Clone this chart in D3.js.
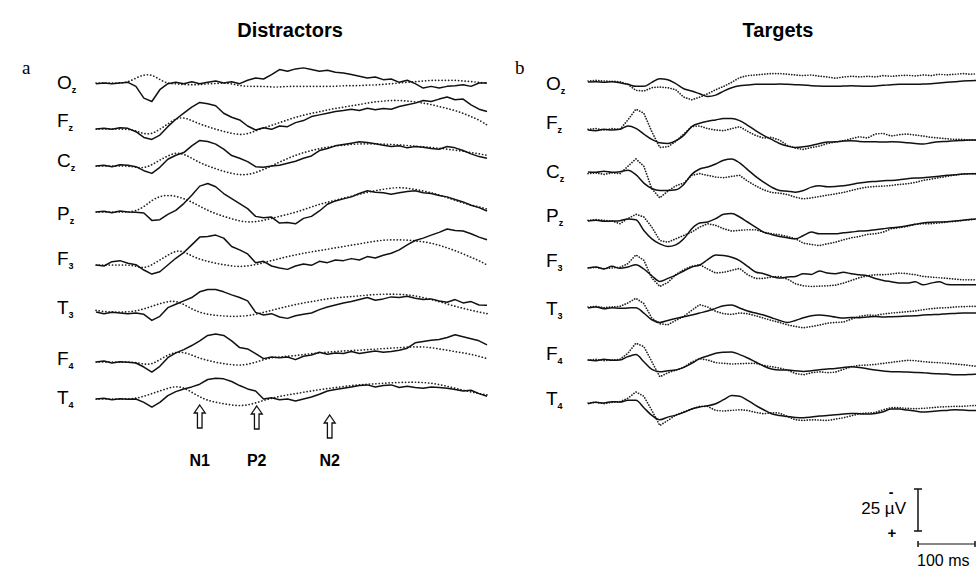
<!DOCTYPE html>
<html>
<head>
<meta charset="utf-8">
<script src="https://cdn.jsdelivr.net/npm/d3@7"></script>
<style>
  body { margin: 0; background: #fff; }
  svg { display: block; font-family: "Liberation Sans", Arial, sans-serif; }
</style>
</head>
<body>
<svg id="chart" width="976" height="572"></svg>
<script>
// sample times (ms), one every 14 ms
var sampleTimes = [-100,-86,-72,-58,-44,-30,-16,-2,12,26,40,54,68,82,96,110,124,138,152,166,
  180,194,208,222,236,250,264,278,292,306,320,334,348,362,376,390,404,418,432,446,
  460,474,488,502,516,530,544,558,572,586];

var channels = ["Oz","Fz","Cz","Pz","F3","T3","F4","T4"];
var peakNames = ["N1","P2","N2"];
var peakTimes = [82, 182, 310];

// values in microvolts (negative plotted upward)
// a: distractors
var aOzSolid = [0.4,0,0.4,0,-0.4,2,9,11,4,0.4,-0.4,0.4,-0.8,0.4,-0.4,-1.2,0,-0.8,0.4,-1.6,-3,-2.4,-5,-8,-7,-8.4,-9,-8,-7,-7.6,-6.4,-6,-5,-4,-3,-3.6,-2,-2.4,-0.4,-1.6,0.4,3,2,3,2,1.6,1,2,0,0];
var aOzDotted = [0,0,0,0,-0.4,-3,-5,-5,-2,0.4,0.4,1,1,1,0.4,0.4,0,0.4,1.6,2,2,2,2.4,2.4,2,2,2,2,2,2,2,1.6,1.6,1.6,1.2,1.2,0.8,0.4,0,-0.4,-0.8,-1.2,-1.6,-1.6,-1.6,-1.6,-1.2,-0.8,-0.4,0];
var aFzSolid = [0,-0.4,0.2,-0.8,-0.4,1.6,5,6.2,3.6,-1.4,-5.8,-9.4,-13,-15.8,-15,-13.8,-9.4,-7,-5.4,-1.8,0.6,-0.8,0.2,-1.8,-1.4,-3.8,-5,-7.4,-8.4,-9.4,-10.4,-11,-11.8,-11,-12.4,-11.4,-12.2,-11.8,-13.4,-14.4,-15.4,-17,-16.4,-17.8,-19,-17.4,-17.8,-14.4,-11.8,-10.4];
var aFzDotted = [0,0,0,0,0.2,1,3,3,0.2,-3,-6.2,-7,-5,-3,-1.4,0.2,1.4,2.6,3.4,3,1,-0.6,-2.2,-3.8,-5.4,-7,-8.2,-9.4,-10.2,-11.4,-12.2,-13,-13.8,-14.6,-15.4,-16.2,-16.6,-17,-17,-16.6,-16.2,-15.4,-14.6,-13.4,-12.2,-11,-9.4,-7.4,-5.4,-2.4];
var aCzSolid = [0,-0.4,0.4,-0.8,-0.4,0.4,2.8,4.4,0.8,-4,-6.4,-8,-12,-15.2,-14.6,-13,-10,-6.2,-4.6,-2.6,0.4,0.8,0,-0.4,-1.6,-2.8,-4.6,-6,-9.2,-10.4,-12,-12.8,-13.6,-14.4,-14,-13.2,-12.4,-11.6,-12,-10.8,-11.6,-11.2,-10.4,-10,-11.6,-10.8,-9.2,-7.2,-5.6,-4.6];
var aCzDotted = [0,0,0,0,0,0.8,1.2,-0.6,-3.6,-6,-8,-7.2,-4.6,-2,0,1.6,3.2,4.4,5.2,5.2,4,2,0,-2.4,-4.4,-6.4,-8,-9.2,-10.4,-11.2,-12,-12.4,-12.8,-13.2,-13.2,-13.2,-13,-12.8,-12.6,-12.2,-11.8,-11.4,-11,-10.6,-10,-9.4,-8.8,-8,-7.2,-6.4];
var aPzSolid = [0,-0.4,0.4,-0.6,0,0.2,0.6,5,4.6,1.4,-1,-5,-10,-15.4,-17,-15,-11,-8,-5,-2,2.6,3.4,3,6.6,6.2,7,3.8,2.6,-0.6,-4.6,-6.6,-7.8,-9,-11,-12.6,-11.8,-11.4,-10.6,-11.4,-12.2,-12.6,-11.4,-11,-9.8,-9,-7.4,-6,-4,-2.6,-0.6];
var aPzDotted = [0,0,0,0,0,-0.6,-3,-7,-9.4,-10,-9.4,-8,-6,-3.4,-1,1,2.6,4,5.4,6,5.8,5,3.8,2.6,1.4,0.2,-1.4,-3,-4.6,-5.8,-7,-8.2,-9.4,-10.6,-11.8,-12.6,-13.6,-14.2,-14.6,-14.2,-13.4,-12.6,-11.4,-10.2,-8.6,-7,-5.4,-4.2,-3,-1.8];
var aF3Solid = [0,0.6,-2,-2.6,-1,-0.2,3,5.4,4,0,-4,-7.4,-12,-16.6,-17,-17.8,-16,-11,-9,-6.6,-1.4,-2.2,0.6,1.8,2.6,0.6,-0.6,0.2,-2.2,-1.4,-3,-2.6,-3.8,-3,-5,-4.2,-5.8,-7,-9,-12,-14.6,-16,-17.8,-19.4,-21.4,-20.6,-20.2,-18.6,-16.6,-15];
var aF3Dotted = [0,0,0,0,0,0.6,2,0,-3,-5.8,-8.6,-8,-5.4,-3.4,-2.2,-1,-0.2,0.6,1,0.6,-0.2,-1.4,-2.6,-3.8,-5,-6,-7,-7.8,-8.6,-9.4,-10.2,-11,-11.8,-12.6,-13.4,-14.2,-14.8,-15,-15,-14.8,-14.4,-13.8,-13,-11.8,-10.2,-8.6,-6.6,-4.6,-2.6,0];
var aT3Solid = [0,1,0.2,0.6,1,0.6,1.4,5,2.6,-2.6,-4.6,-6.6,-8.6,-12,-13.4,-13.4,-12,-10.2,-8.6,-6.6,0.2,1.8,1,3,3.8,2.2,1.4,0.6,-1.4,-3,-4.2,-5.4,-6.2,-7.4,-8.6,-7,-7.8,-9,-8.6,-9.4,-8.2,-7.4,-7.8,-6.6,-5.8,-7.4,-5.4,-6.2,-4.2,-4];
var aT3Dotted = [-1,-0.2,0,0,0,-0.6,-1.8,-3.4,-5,-6.2,-6.6,-4.6,-1.8,0.2,1.4,2,2.4,2.6,2.6,2.2,1.4,0.2,-1,-2.2,-3.4,-4.4,-5.4,-6.2,-7,-7.8,-8.4,-8.8,-9.2,-9.6,-10,-10.4,-10.6,-10.6,-10.6,-10.2,-9.6,-8.6,-7.4,-6.2,-4.8,-3.4,-2.2,-1,0,1];
var aF4Solid = [0,-0.6,0.6,-0.2,0.2,0.6,3,6,2.6,-2.6,-5.4,-7.4,-9.8,-12.6,-15.8,-16.6,-15.8,-12.6,-8.6,-7.8,-5,-2,-3,-2.6,-3,-1.4,-3.4,-4.2,-5.8,-4.6,-5.4,-5,-6.2,-5,-5.8,-6.6,-5.8,-6.2,-7,-8.2,-11.4,-12.2,-13,-13.4,-14.6,-16.2,-15,-13.8,-12.6,-10.2];
var aF4Dotted = [0,0,0,0,0,0.2,1.4,1.4,-1.4,-4.2,-5.8,-5.8,-4.2,-2.2,-1,0.2,1,1.6,2,1.4,0.2,-1.4,-2.6,-3,-3.4,-3.8,-4.4,-5,-5.4,-5.8,-6.2,-6.6,-6.8,-7,-7.4,-7.6,-8,-8.2,-8.6,-8.8,-9,-9,-8.6,-7.8,-7,-6.2,-5.4,-4.6,-3.4,-2];
var aT4Solid = [0,-0.4,0.4,-0.2,0.2,0,2,4.8,2,-2,-4.4,-6,-7.2,-8.8,-11.6,-12.4,-12,-10.4,-8,-6,-4.8,0,-0.8,0.4,0,1.2,0,-1.2,-2.8,-4.8,-5.6,-6.4,-7.2,-8,-8.4,-7.2,-8,-8.4,-6.8,-7.6,-6.8,-6.4,-7.2,-6.8,-6.4,-5.6,-4.8,-5.2,-3.2,-1.6];
var aT4Dotted = [0,0,0,0,0,-0.4,-1.6,-3.2,-4.8,-6.4,-7.6,-6.8,-4,-1.2,0.8,2,2.8,3.6,4,3.6,2.4,0.8,-0.4,-1.6,-2.4,-3.2,-4,-4.8,-5.6,-6.2,-6.8,-7.4,-8,-8.4,-8.8,-9,-9.4,-9.6,-9.8,-10,-10,-9.8,-9.4,-8.6,-7.6,-6.4,-5.2,-4.2,-3.2,-2.4];

// b: targets
var bOzSolid = [0,-0.2,0.2,-0.2,0.4,1.4,2.6,2.6,0.2,-2,-1.4,1,4,5.4,7,8.6,7.8,5.4,3.4,2.2,1.8,1.4,1.4,1.4,1.2,1.4,1.6,1.8,2.2,2.4,2.6,2.6,2.4,2.2,2.4,2.6,2.4,2,1.6,1.4,1.4,1.4,1.2,1,0.6,0.2,-0.2,-0.6,-0.8,-1];
var bOzDotted = [-0.6,-1,-0.6,-0.4,-0.2,1.4,5,5.4,3.4,3,3.4,4.6,9,10.6,9,7,4.6,2.6,0.2,-2.6,-3.8,-4.2,-4.6,-5,-5,-4.6,-4.2,-3.8,-4.2,-3.4,-3,-2.2,-3,-3.4,-3,-3.4,-3,-3.8,-3.4,-3.8,-4,-3.6,-4.2,-3.8,-4.6,-4.2,-4.6,-5,-4.6,-5];
var bFzSolid = [0,0.4,-0.4,0,-0.4,-2.4,-1,2.4,5.6,7.6,8,6.4,3.2,-2,-4,-5.2,-6,-6.8,-6.8,-5.6,-2.8,0.4,3.2,5.6,8,9.6,10.4,10,9.2,8,7.2,7,6.6,6.4,6.8,7,7,7.2,7,7.2,7.6,8,8.4,7.6,7,6.8,6.4,6.2,6,6];
var bFzDotted = [-0.4,-0.8,0,-0.8,-0.4,-6,-12.4,-10,1,10.4,10,6.8,2.4,-2,-2.4,-0.8,0,0.4,-0.8,-2,0.8,3.2,4.8,4.4,6,9.2,10.8,11.6,10.4,9.6,8,7.2,6.4,5.2,4,4.8,2.4,2,3.6,2.8,2.4,3,3.6,4.4,4.8,5.2,5.6,5.6,6,6];
var bCzSolid = [0,0.2,-0.4,0.2,-0.2,-1,1.6,6.6,9.8,11,11,10.6,7.4,1.4,-1.8,-3,-4.8,-7,-7.8,-5.4,-1.4,2.6,6,9,11,11.4,12,11,9,8.2,8.8,8.6,8.2,7.4,6.6,6,5.6,5.2,5,4.6,4,3.6,3.4,3,2.6,2,1.6,1.2,1,1];
var bCzDotted = [1,0.6,1.4,0.6,1,-3.4,-7.8,-3.4,10,15.4,11.4,8.2,6.6,2,1,2,3,3.4,2.6,2,5.4,8.2,10.6,12.2,12.6,13.4,15,16,15.4,14.6,13.8,13,12.2,11,9.8,9,8.6,8.4,8,7.4,7,6.2,5,4.2,3.4,2.6,1.8,1.2,1,1];
var bPzSolid = [0,-0.4,0.2,0,-0.2,-1.2,-0.8,5.6,10.6,13.6,15.2,14.2,10.6,4.6,1.2,0.6,-1.4,-4,-4.4,-2.4,0.6,3.6,6.6,8,9.2,10,10.6,8.6,6.6,7.6,7.6,7.6,7,6.6,6,5.8,5.2,4.6,4,3.6,2.8,2,1.2,0.8,0.6,0.4,0,-0.4,-1,-1.4];
var bPzDotted = [-0.4,-0.8,-0.4,0,1.6,-1.4,-4,-2.4,3.6,11.6,12.6,10.6,8.6,6.6,3.6,1.6,2.6,4.6,6,5.6,5.2,5.2,6.6,7.6,8.2,9.2,10.6,13.2,14,14.6,13.6,12.6,11.2,10,9.2,8,7.6,6.6,4.6,4,3.2,2,1.6,1.6,1.2,0.6,0.2,-0.4,-0.8,-1.4];
var bF3Solid = [0,-0.6,0.6,-1,0.2,-0.6,-2,0.6,4.6,8,6.2,4.2,1.8,-0.6,-1.8,-5,-7.8,-7.4,-6.4,-4.4,-1,2.4,3.4,5,6,5.4,5,3.4,3.8,1.8,3,3.4,2.6,3.4,4,4.6,6.2,7.4,8.2,9,9,8.2,10,9,8.2,9.8,10,10,10,10];
var bF3Dotted = [0,-0.4,0.4,0,-0.4,-2.6,-7.8,-4.6,6,11,8.6,4,1,-1,-2,0.6,3,2.6,1.4,0.2,4,6.2,6.2,5.4,5,6.6,9.4,10.6,11,10.8,10.6,10.2,9,7.4,5.8,4.6,4,4,3.6,3,3.4,4,5,5.4,5.8,6.2,6.6,7,7,7];
var bT3Solid = [0,-0.6,0.4,-0.2,0.2,0,-0.2,3,7,8.6,7.4,6.2,5.2,4.2,3,1.8,0.2,-1.4,-1.8,0,1.8,3,4.2,5.8,7.4,8.6,7.4,5.8,4.6,4.2,4.6,5.4,6,5.6,5.8,5.4,5,5.4,5.2,5,4.8,4.6,4.2,4,3.8,3.4,3.2,3,3,3];
var bT3Dotted = [-0.6,-1,-0.2,-0.6,-1,-3,-5.8,-2.6,6,9.4,10,7.4,5,1.4,-2,-0.6,2,3.4,3.8,3,3.4,4.6,6,7.4,8.6,10,11,11.8,11,10.2,9,8.6,8.4,6.6,5,4.2,4.4,3.6,3,2.6,2.2,1.8,1,0.4,0,-0.2,-0.6,-0.8,-1,-1];
var bF4Solid = [0,0.4,-0.4,0.2,0,-2,-3.2,1,5.6,7,6.4,6,4.4,2,-0.8,-2.4,-4,-4.6,-4.8,-3.2,-1.2,1.2,3.6,5.4,6,6,6.4,6.8,6.4,5.8,5.4,5,4.4,4,4.4,5.2,6,6.6,7,7,7.2,7.4,7.6,8,8.2,8.4,8.8,8.8,8.6,8.4];
var bF4Dotted = [0,-0.4,0.4,0,-0.4,-4,-10,-8,1,10,7.6,6,4.4,1.2,-0.8,0,1.6,2,2.4,2.2,2,2,3.2,4,4.8,6,8,8.8,7.6,7,7.6,7.2,5.6,4,3.2,3,2.6,2,1.4,0.8,0.2,0.4,1,1.4,1.6,2,2.4,2.8,3.4,4];
var bT4Solid = [1,0.2,0.6,-0.2,0,-1,-1,3.4,8,10.6,9,7.8,6.2,4.2,3,2.2,1,-1.4,-3.8,-3.4,-1,2,4.6,7,8,8.6,9.2,9.4,9,8.4,8,7.6,7.2,6.8,7,7.2,6.8,5.8,4.2,4.2,4.8,5.4,6,5.6,5.2,5,4.6,4.8,5,5];
var bT4Dotted = [0.6,0.2,1,0.2,-0.2,-2.2,-6,-3.4,5,14,11,7.8,5.8,4.2,2.6,2.6,5,5.4,5,4.6,5,6.2,7,6.4,6.6,8.6,10.6,11,10.6,10.8,11,10.2,9.4,8.2,7,6.6,6.2,4.6,3.4,3.4,3.8,4,3.8,3.4,3,2.8,2.6,2.6,2.2,2];

// ---------- layout ----------
var svg = d3.select("#chart");
svg.append("rect").attr("width", 976).attr("height", 572).attr("fill", "#fff");

var panels = [
  { key: "a", title: "Distractors", titleX: 290, letterX: 22, labelX: 57, x0: 96,
    rows: [83, 129, 166, 212, 265, 312, 362, 399],
    labelY: [82, 120, 160, 213, 258, 307, 358, 397],
    solid: [aOzSolid, aFzSolid, aCzSolid, aPzSolid, aF3Solid, aT3Solid, aF4Solid, aT4Solid],
    dotted: [aOzDotted, aFzDotted, aCzDotted, aPzDotted, aF3Dotted, aT3Dotted, aF4Dotted, aT4Dotted],
    solidCurve: d3.curveLinear, dottedCurve: d3.curveBasis, dash: "0.1 3.2" },
  { key: "b", title: "Targets", titleX: 778, letterX: 515, labelX: 546, x0: 588,
    rows: [82, 130, 172, 221, 268, 308, 360, 402],
    labelY: [83, 122, 171, 215, 260, 308, 353, 398],
    solid: [bOzSolid, bFzSolid, bCzSolid, bPzSolid, bF3Solid, bT3Solid, bF4Solid, bT4Solid],
    dotted: [bOzDotted, bFzDotted, bCzDotted, bPzDotted, bF3Dotted, bT3Dotted, bF4Dotted, bT4Dotted],
    solidCurve: d3.curveMonotoneX, dottedCurve: d3.curveLinear, dash: "0.1 2.6" }
];

// 25 uV = 42 px, 100 ms = 57 px
var yScale = d3.scaleLinear().domain([0, 25]).range([0, 42]);
var msToPx = d3.scaleLinear().domain([0, 100]).range([0, 57]);

panels.forEach(function(p){
  var xScale = d3.scaleLinear()
    .domain([sampleTimes[0], sampleTimes[sampleTimes.length - 1]])
    .range([p.x0, p.x0 + msToPx(sampleTimes[sampleTimes.length - 1] - sampleTimes[0])]);

  svg.append("text")
    .attr("x", p.titleX).attr("y", 37)
    .attr("text-anchor", "middle")
    .style("font-size", "20px").style("font-weight", "bold")
    .text(p.title);

  svg.append("text")
    .attr("x", p.letterX).attr("y", 74)
    .style("font-family", "'Liberation Serif', 'DejaVu Serif', serif")
    .style("font-size", "19px")
    .text(p.key);

  channels.forEach(function(ch, i){
    var lab = svg.append("text")
      .attr("x", p.labelX).attr("y", p.labelY[i] + 7)
      .style("font-size", "19px");
    lab.append("tspan").text(ch.charAt(0));
    lab.append("tspan").attr("dy", 4).style("font-size", "9px").style("font-weight", "bold").text(ch.charAt(1));

    var g = svg.append("g").attr("transform", "translate(0," + p.rows[i] + ")");

    var lineS = d3.line().curve(p.solidCurve)
      .x(function(d, k){ return xScale(sampleTimes[k]); })
      .y(function(d){ return yScale(d); });
    var lineD = d3.line().curve(p.dottedCurve)
      .x(function(d, k){ return xScale(sampleTimes[k]); })
      .y(function(d){ return yScale(d); });

    g.append("path")
      .datum(p.dotted[i])
      .attr("d", lineD)
      .attr("fill", "none")
      .attr("stroke", "#222")
      .attr("stroke-width", 1.7)
      .attr("stroke-linecap", "round")
      .attr("stroke-dasharray", p.dash);

    g.append("path")
      .datum(p.solid[i])
      .attr("d", lineS)
      .attr("fill", "none")
      .attr("stroke", "#111")
      .attr("stroke-width", 1.5)
      .attr("stroke-linejoin", "round");
  });

  // peak arrows under panel a
  if (p.key == "a"){
    var tipY = [405, 406, 415];
    peakNames.forEach(function(name, j){
      var x = xScale(peakTimes[j]);
      svg.append("path")
        .attr("transform", "translate(" + x + "," + tipY[j] + ")")
        .attr("d", "M0,0 L5.5,8 L2.3,8 L2.3,23 L-2.3,23 L-2.3,8 L-5.5,8 Z")
        .attr("fill", "#fff").attr("stroke", "#111").attr("stroke-width", 1.3);
      svg.append("text")
        .attr("x", x).attr("y", 466)
        .attr("text-anchor", "middle")
        .style("font-size", "16px").style("font-weight", "bold")
        .text(name);
    });
  }
});

// scale bars
var sb = svg.append("g").attr("stroke", "#111").attr("stroke-width", 1.5);
var vTop = 489, vx = 918, vLen = yScale(25);
sb.append("line").attr("x1", vx).attr("x2", vx).attr("y1", vTop).attr("y2", vTop + vLen);
sb.append("line").attr("x1", vx - 4).attr("x2", vx + 4).attr("y1", vTop).attr("y2", vTop);
sb.append("line").attr("x1", vx - 4).attr("x2", vx + 4).attr("y1", vTop + vLen).attr("y2", vTop + vLen);
var hy = 544, hLen = msToPx(100);
sb.append("line").attr("x1", vx).attr("x2", vx + hLen).attr("y1", hy).attr("y2", hy).attr("stroke-width", 1.2);
sb.append("line").attr("x1", vx).attr("x2", vx).attr("y1", hy - 3).attr("y2", hy + 3);
sb.append("line").attr("x1", vx + hLen).attr("x2", vx + hLen).attr("y1", hy - 3).attr("y2", hy + 3);

svg.append("text").attr("x", 891).attr("y", 497).attr("text-anchor", "middle")
  .style("font-size", "14px").style("font-weight", "bold").text("-");
svg.append("text").attr("x", 906).attr("y", 514).attr("text-anchor", "end")
  .style("font-size", "17px").text("25 \u00b5V");
svg.append("text").attr("x", 892).attr("y", 538).attr("text-anchor", "middle")
  .style("font-size", "15px").style("font-weight", "bold").text("+");
svg.append("text").attr("x", 917).attr("y", 566)
  .style("font-size", "16px").text("100 ms");
</script>
</body>
</html>
